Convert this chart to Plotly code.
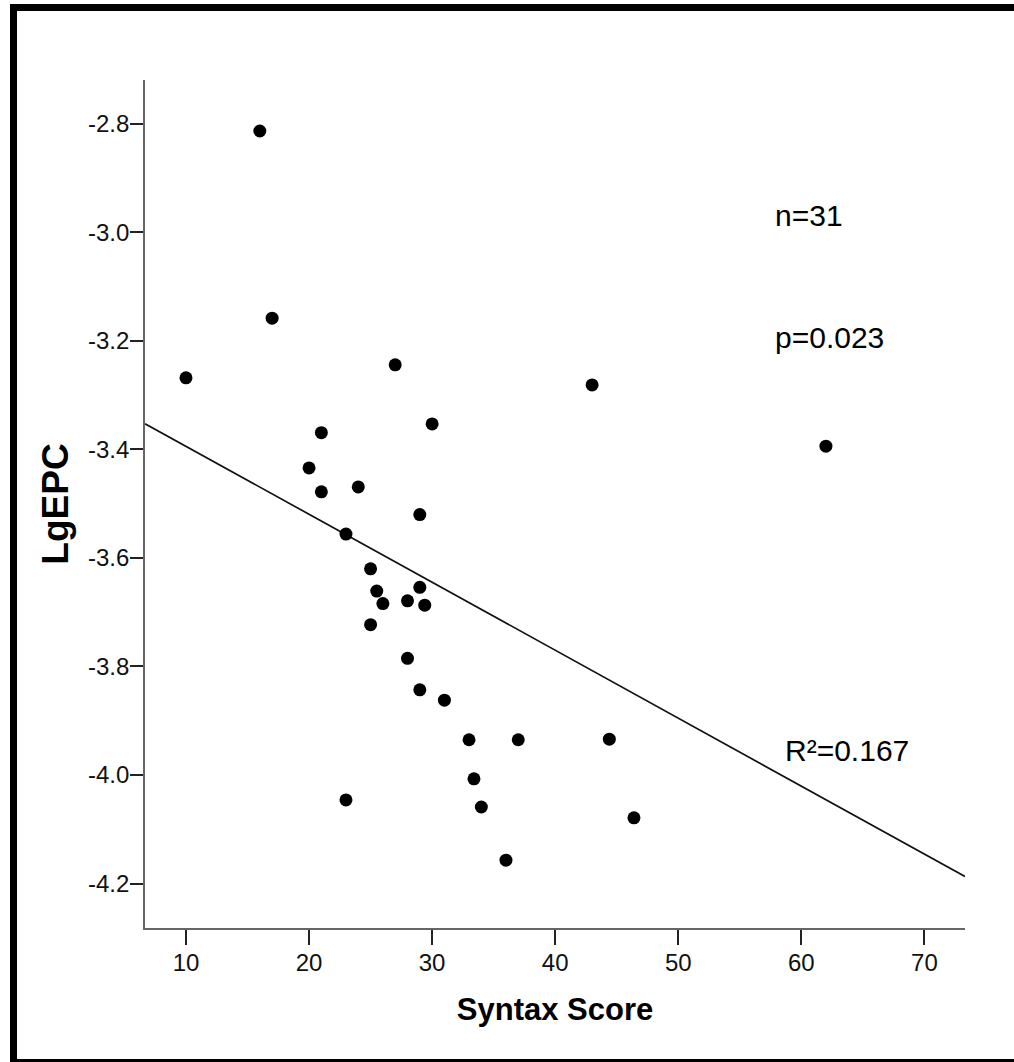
import numpy as np
import plotly.graph_objects as go

# Syntax score vs. log endothelial progenitor cell count (n = 31)
syntax_score = [16, 17, 10, 27, 30, 43, 62,
                21, 20, 21, 24, 29, 23, 25, 29, 25.5, 26, 28, 29.4, 25, 28, 29, 31,
                23, 33, 37, 44.4, 33.4, 34, 36, 46.4]
lg_epc = [-2.813, -3.158, -3.268, -3.244, -3.353, -3.281, -3.394,
          -3.369, -3.434, -3.478, -3.469, -3.520, -3.556, -3.620, -3.654, -3.661,
          -3.684, -3.679, -3.687, -3.723, -3.785, -3.843, -3.862,
          -4.046, -3.935, -3.935, -3.934, -4.007, -4.059, -4.157, -4.079]

x_ticks = [10, 20, 30, 40, 50, 60, 70]
y_ticks = [-2.8, -3.0, -3.2, -3.4, -3.6, -3.8, -4.0, -4.2]
x_range = [6.67, 73.3]
y_range = [-4.282, -2.719]

stats_text = ["n=31", "p=0.023", "R²=0.167"]
stats_pos = [(57.7, -2.968), (57.7, -3.193), (58.5, -3.954)]

# Least-squares fit line across the full x range
slope, intercept = np.polyfit(syntax_score, lg_epc, 1)
fit_x = np.array(x_range)
fit_y = intercept + slope * fit_x

W, H = 1014, 1062
M = dict(l=145, r=49, t=80, b=134)
PW, PH = W - M["l"] - M["r"], H - M["t"] - M["b"]


def px_to_paper(x0, y0, x1, y1):
    return dict(x0=(x0 - M["l"]) / PW, x1=(x1 - M["l"]) / PW,
                y0=1 - (y0 - M["t"]) / PH, y1=1 - (y1 - M["t"]) / PH)


FAM = "Liberation Sans Narrow, Arial Narrow, Liberation Sans, Arial"
tick_font = dict(family=FAM, size=24, color="#111")
note_font = dict(family=FAM, size=30, color="#000")

fig = go.Figure()
fig.add_trace(go.Scatter(x=fit_x, y=fit_y, mode="lines",
                         line=dict(color="#111", width=1.7), hoverinfo="skip"))
fig.add_trace(go.Scatter(x=syntax_score, y=lg_epc, mode="markers",
                         marker=dict(color="#000", size=13)))

fig.update_xaxes(range=x_range, tickvals=x_ticks, ticktext=[str(v) for v in x_ticks],
                 showgrid=False, zeroline=False, showline=True, linecolor="#666", linewidth=1.6,
                 ticks="outside", ticklen=15, tickwidth=2, tickcolor="#222",
                 tickfont=tick_font, ticklabelstandoff=-3,
                 title=dict(text="<b>Syntax Score</b>", font=dict(family=FAM, size=31, color="#000"),
                            standoff=24))
fig.update_yaxes(range=y_range, tickvals=y_ticks, ticktext=[f"{v:.1f}" for v in y_ticks],
                 showgrid=False, zeroline=False, showline=True, linecolor="#666", linewidth=1.6,
                 ticks="outside", ticklen=13, tickwidth=2, tickcolor="#222",
                 tickfont=tick_font, ticklabelstandoff=-4,
                 title=dict(text="<b>LgEPC</b>", font=dict(family=FAM, size=37, color="#000"),
                            standoff=8))

# Statistics labels
for txt, (ax, ay) in zip(stats_text, stats_pos):
    fig.add_annotation(x=ax, y=ay, text=txt, showarrow=False, xanchor="left",
                       yanchor="middle", font=note_font)

# Page frame (left, top and bottom bars)
frame = [px_to_paper(10, 4, 17, 1062), px_to_paper(10, 4, 1014, 11),
         px_to_paper(10, 1059, 1014, 1062)]
for f in frame:
    fig.add_shape(type="rect", xref="paper", yref="paper", line=dict(width=0),
                  fillcolor="#000", layer="above", **f)

fig.update_layout(width=W, height=H, margin=M, showlegend=False,
                  plot_bgcolor="white", paper_bgcolor="white")
fig.write_html("out.html")
